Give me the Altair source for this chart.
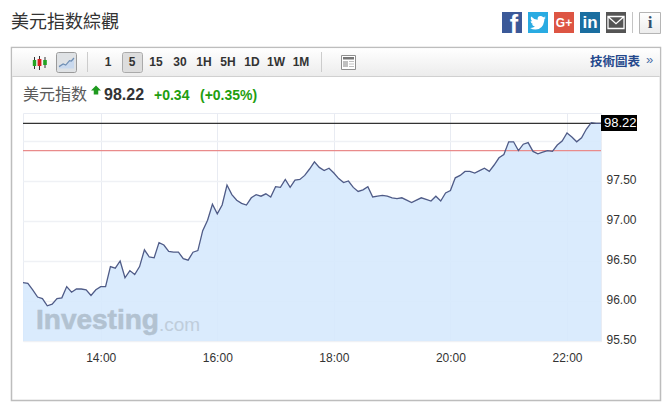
import altair as alt
import pandas as pd

# chart values
minutes = list(range(760, 1360, 5))  # 12:40 .. 22:35, five-minute bars
closes = [
    96.23, 96.22, 96.14, 96.05, 96.03, 95.94, 95.96, 96.03, 96.04, 96.18,
    96.11, 96.15, 96.15, 96.14, 96.07, 96.14, 96.18, 96.18, 96.43, 96.41,
    96.50, 96.29, 96.38, 96.33, 96.43, 96.64, 96.55, 96.54, 96.73, 96.70,
    96.62, 96.61, 96.61, 96.53, 96.51, 96.61, 96.63, 96.88, 97.01, 97.21,
    97.09, 97.20, 97.45, 97.33, 97.26, 97.22, 97.20, 97.29, 97.33, 97.31,
    97.34, 97.30, 97.43, 97.42, 97.52, 97.42, 97.51, 97.52, 97.57, 97.65,
    97.74, 97.67, 97.63, 97.66, 97.60, 97.53, 97.48, 97.50, 97.42, 97.37,
    97.39, 97.43, 97.30, 97.31, 97.32, 97.31, 97.29, 97.28, 97.29, 97.26,
    97.23, 97.26, 97.29, 97.27, 97.25, 97.31, 97.25, 97.35, 97.38, 97.54,
    97.57, 97.62, 97.62, 97.60, 97.63, 97.66, 97.62, 97.70, 97.79, 97.83,
    97.99, 97.99, 97.88, 97.96, 97.98, 97.87, 97.84, 97.86, 97.88, 97.87,
    97.95, 98.00, 98.10, 98.05, 97.99, 98.04, 98.15, 98.23, 98.22, 98.22,
]
last_price = 98.22
prev_close = 97.88
axis_floor = 95.5
x_ticks = [840, 960, 1080, 1200, 1320]
y_ticks = [95.5, 96.0, 96.5, 97.0, 97.5, 98.0]
intervals = ["1", "5", "15", "30", "1H", "5H", "1D", "1W", "1M"]

ORIGIN_X, ORIGIN_Y = 23, 113
PLOT_W, PLOT_H = 578, 228
SANS = "Liberation Sans"
CJK = "Noto Sans CJK TC"

df = pd.DataFrame({"minute": minutes, "close": closes})
blank = alt.Data(values=[{}])


def px(v):
    return alt.value(v - ORIGIN_X)


def py(v):
    return alt.value(v - ORIGIN_Y)


def box(x0, y0, x1, y1, **kw):
    return alt.Chart(blank).mark_rect(**kw).encode(x=px(x0), x2=px(x1), y=py(y0), y2=py(y1))


def label(x, y, s, size=12, color="#333333", weight="normal", align="left", font=SANS, **kw):
    return alt.Chart(blank).mark_text(
        fontSize=size, color=color, fontWeight=weight, align=align, baseline="middle", font=font, **kw
    ).encode(x=px(x), y=py(y), text=alt.value(s))


def glyph(x, y, path, size, **kw):
    return alt.Chart(blank).mark_point(shape=path, size=size, opacity=1, **kw).encode(x=px(x), y=py(y))


toolbar_grad = alt.Gradient(
    gradient="linear", x1=0, x2=0, y1=0, y2=1,
    stops=[alt.GradientStop(offset=0, color="#ffffff"), alt.GradientStop(offset=1, color="#ececec")],
)

BIRD = ("M1,-.62 Q.85,-.55 .75,-.53 Q.88,-.62 .93,-.78 Q.78,-.68 .65,-.65 Q.5,-.82 .3,-.82 "
        "Q-.05,-.8 -.05,-.45 L-.03,-.33 Q-.5,-.35 -.85,-.75 Q-1,-.4 -.72,-.15 Q-.82,-.15 -.92,-.2 "
        "Q-.92,.1 -.58,.22 L-.78,.23 Q-.65,.48 -.38,.5 Q-.65,.72 -1,.68 Q-.65,.9 -.3,.88 "
        "Q.6,.85 .78,-.2 L.8,-.4 Z")
ARROW = "M0,-1 L1,0 L.45,0 L.45,.8 L-.45,.8 L-.45,0 L-1,0 Z"
ENVELOPE = "M-1,-.75 L1,-.75 L1,.75 L-1,.75 Z M-1,-.75 L0,.15 L1,-.75"
TREND = "M-1,.55 L-.45,.2 L-.1,.35 L.4,-.25 L.65,-.2 L1,-.6"
TREND_FILL = "M-1,.55 L-.45,.2 L-.1,.35 L.4,-.25 L.65,-.2 L1,-.6 L1,.8 L-1,.8 Z"

chrome = [
    label(11, 23, "美元指数綜觀", size=18, font=CJK, color="#333333"),
    # social buttons
    box(502, 12, 522, 33, color="#3b5998"),
    label(518, 25, "f", size=25, color="white", weight="bold", align="right"),
    box(528, 12, 548, 33, color="#29abe2"),
    glyph(538, 22.5, BIRD, 256, filled=True, color="white"),
    box(554, 12, 574, 33, color="#dd5543"),
    label(564, 22.5, "G+", size=12, color="white", weight="bold", align="center"),
    box(580, 12, 600, 33, color="#1a6ea0"),
    label(590, 23, "in", size=17, color="white", weight="bold", align="center"),
    box(606, 12, 626, 33, color="#555555"),
    glyph(616, 22.5, ENVELOPE, 256, filled=False, color="white", strokeWidth=1.3),
    box(632, 12, 633, 33, color="#c4c4c4"),
    box(639.5, 12.5, 660.5, 33.5, color=toolbar_grad, stroke="#b5b5b5", strokeWidth=1),
    label(650, 23, "i", size=17, color="#35506b", weight="bold", align="center", font="Liberation Serif"),
    # widget frame and toolbar
    box(11.5, 47.5, 660.5, 400.5, filled=False, stroke="#bdbdbd", strokeWidth=1.5),
    box(12.25, 48.25, 659.75, 76, color=toolbar_grad),
    box(12.25, 76, 659.75, 77, color="#d0d0d0"),
    # candlestick icon
    box(34, 57, 35, 69, color="#333333"),
    box(32.8, 60, 36.2, 66, color="#23a323"),
    box(39, 56, 40, 70, color="#333333"),
    box(37.6, 59, 41.4, 66, color="#d92020"),
    box(44.5, 57, 45.5, 68, color="#333333"),
    box(43.2, 60, 46.8, 65, color="#23a323"),
    # line-chart button
    box(56.5, 52.5, 76.5, 72.5, color="#dfe2e5", stroke="#9a9a9a", strokeWidth=1, cornerRadius=2),
    glyph(66.5, 62.5, TREND_FILL, 225, filled=True, color="#c9d9ee"),
    glyph(66.5, 62.5, TREND, 225, filled=False, color="#6f8fb5", strokeWidth=1.2),
    box(87, 52, 88, 72, color="#cccccc"),
    box(122.5, 52.5, 142.5, 72.5, color="#dddddd", stroke="#aaaaaa", strokeWidth=1, cornerRadius=2),
    box(321, 52, 322, 72, color="#cccccc"),
    # news icon
    box(341.5, 55.5, 355.5, 69.5, color="#ffffff", stroke="#8f8f8f", strokeWidth=1),
    box(343, 57, 354, 59.5, color="#777777"),
    box(343, 61, 348, 67, color="#c0c0c0"),
    box(349, 61, 354, 62, color="#c0c0c0"),
    box(349, 63.5, 354, 64.5, color="#c0c0c0"),
    box(349, 66, 354, 67, color="#c0c0c0"),
    label(590, 61.5, "技術圖表", size=12.5, color="#24488c", weight="bold", font=CJK),
    label(646, 60, "»", size=13, color="#4a6fa8"),
    # quote row
    label(23, 95, "美元指数", size=16, color="#5a5a5a", font=CJK),
    glyph(96, 90.5, ARROW, 100, filled=True, color="#1f9a1f"),
    label(104, 95, f"{last_price:.2f}", size=16, color="#333333", weight="bold"),
    label(154, 95.5, "+0.34", size=14, color="#1f9e0f", weight="bold"),
    label(200, 95.5, "(+0.35%)", size=14, color="#1f9e0f", weight="bold"),
]
centers = [108, 132, 156, 180, 204, 228, 252, 276, 301]
chrome += [label(c, 61.5, s, size=12, weight="bold", align="center", color="#333333")
           for c, s in zip(centers, intervals)]

x_enc = alt.X(
    "minute:Q",
    scale=alt.Scale(domain=[760, 1355], nice=False, zero=False),
    axis=alt.Axis(
        title=None, values=x_ticks, labelExpr="floor(datum.value/60)+':00'", grid=True,
        gridColor="#e8ebf2", gridWidth=1, ticks=False, domain=False, labelPadding=11,
        labelFont=SANS, labelFontSize=12, labelColor="#333333",
    ),
)
y_enc = alt.Y(
    "close:Q",
    scale=alt.Scale(domain=[95.5, 98.35], nice=False, zero=False),
    axis=alt.Axis(
        title=None, orient="right", values=y_ticks,
        labelExpr="datum.value>=98?'':format(datum.value,'.2f')", grid=True,
        gridColor="#eff1f5", gridWidth=1.5, ticks=False, domain=False, labelPadding=5,
        labelOffset=-2, labelFont=SANS, labelFontSize=12, labelColor="#333333",
    ),
)

area = alt.Chart(df).mark_area(color="#d6e9fd", opacity=0.9).encode(
    x=x_enc, y=y_enc, y2=alt.Y2(datum=axis_floor)
)
mark_wm = [
    label(36, 321, "Investing", size=28, color="#a9b8c7", weight="bold", opacity=0.8,
          stroke="#a9b8c7", strokeWidth=0.6),
    label(159, 325, ".com", size=19, color="#b9c6d3", opacity=0.8),
]
line = alt.Chart(df).mark_line(color="#4f5b87", strokeWidth=1.3).encode(x="minute:Q", y="close:Q")
rule_prev = alt.Chart(blank).mark_rule(color="#e98b8b", strokeWidth=1.2).encode(y=alt.Y(datum=prev_close))
rule_last = alt.Chart(blank).mark_rule(color="#333333", strokeWidth=1.2).encode(y=alt.Y(datum=last_price))
tag = box(601, 115, 637, 131, color="#000000")
tag_text = alt.Chart(blank).mark_text(
    color="white", fontSize=13, font=SANS, align="left", baseline="middle"
).encode(x=px(604), y=alt.Y(datum=last_price), text=alt.value(f"{last_price:.2f}"))

chart = alt.layer(
    *chrome, area, *mark_wm, rule_prev, rule_last, line, tag, tag_text
).properties(
    width=PLOT_W,
    height=PLOT_H,
    autosize=alt.AutoSizeParams(type="none"),
    padding={"left": ORIGIN_X - 8, "top": ORIGIN_Y - 8, "right": 61, "bottom": 61},
    background="white",
).configure_view(stroke="#e9ecf3")

chart.save("out.html", embed_options={"renderer": "svg", "actions": False})
